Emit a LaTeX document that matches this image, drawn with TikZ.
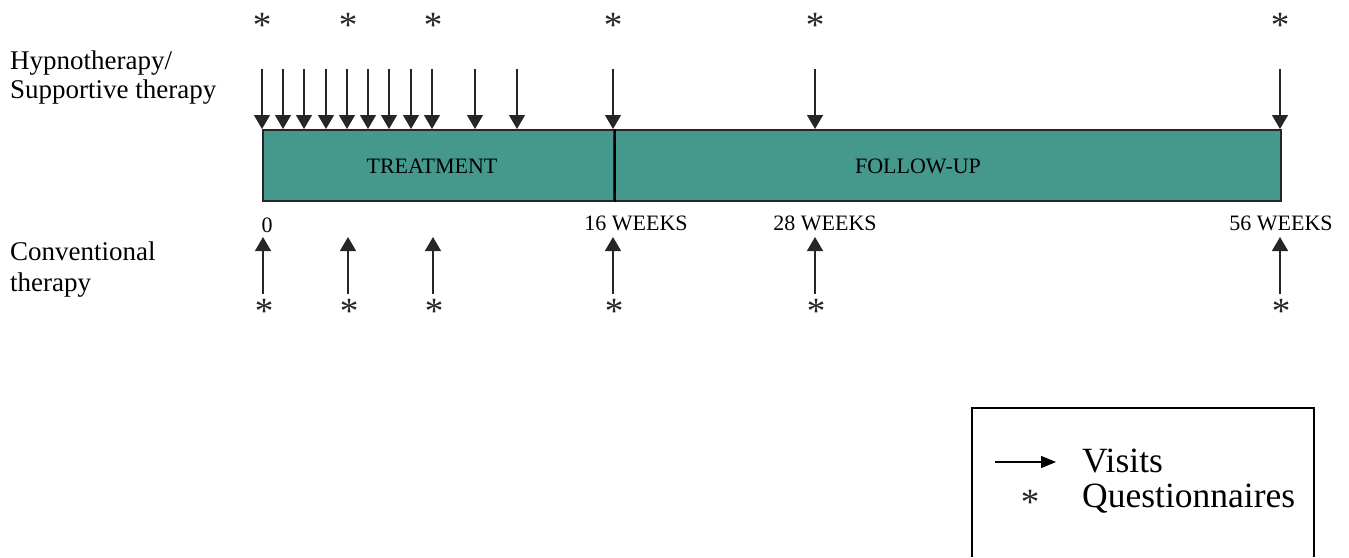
\documentclass[tikz,border=0pt]{standalone}
\usepackage{fontspec}
\setmainfont{Liberation Serif}
\usetikzlibrary{arrows.meta}
\definecolor{teal1}{RGB}{68,152,140}
\begin{document}
\begin{tikzpicture}[x=1pt,y=-1pt,
  visit/.style={line width=1.4pt,draw=black!85,-{Triangle[length=14pt,width=16pt]}},
  phase/.style={draw=black!85,line width=2pt,fill=teal1,inner sep=0pt,anchor=north west},
  lbl/.style={font=\fontsize{22}{24}\selectfont,inner sep=0pt},
  side/.style={font=\fontsize{27}{28}\selectfont,inner sep=0pt,anchor=base west},
  qstar/.style={font=\fontsize{37}{37}\selectfont,inner sep=0pt,text=black!85,yshift=-2.5pt}]
\useasboundingbox (0,0) rectangle (1349,557);
% phases
\node[phase,minimum width=351pt,minimum height=71pt] (treat) at (262,129) {};
\node[phase,minimum width=667pt,minimum height=71pt] (follow) at (613,129) {};
\node[lbl] (tlab) at (432,166) {TREATMENT};
\node[lbl] (flab) at (918,166) {FOLLOW-UP};
% side labels
\node[side] (h1) at (10,69) {Hypnotherapy/};
\node[side] (h2) at (10,98) {Supportive therapy};
\node[side] (c1) at (10,260) {Conventional};
\node[side] (c2) at (10,291) {therapy};
% time labels
\node[lbl] (t0) at (267,225) {0};
\node[lbl] (t16) at (636,223) {16 WEEKS};
\node[lbl] (t28) at (825,223) {28 WEEKS};
\node[lbl] (t56) at (1281,223) {56 WEEKS};
% top visits
\foreach \i/\x in {1/262,2/283,3/304,4/326,5/347,6/368,7/389,8/411,9/432,10/475,11/517,12/613,13/815,14/1280}{
  \coordinate (vs\i) at (\x,69);
  \draw[visit] (vs\i) -- (vs\i |- treat.north);
}
% top questionnaires
\foreach \i/\x in {1/262,2/348,3/433,4/613,5/815,6/1280}{
  \node[qstar] (qt\i) at (\x,23) {*};
}
% bottom visits and questionnaires
\foreach \i/\x in {1/263,2/348,3/433,4/613,5/815,6/1280}{
  \coordinate (cs\i) at (\x,294);
  \coordinate (ce\i) at (\x,237);
  \draw[visit] (cs\i) -- (ce\i);
  \node[qstar] (qb\i) at (\x+1,309) {*};
}
% divider line
\draw[line width=1.4pt] (treat.north east) -- (treat.south east);
% legend
\coordinate (lg1) at (972,557);
\coordinate (lg2) at (972,408);
\coordinate (lg3) at (1314,408);
\coordinate (lg4) at (1314,557);
\draw[line width=1.2pt] (lg1) -- (lg2) -- (lg3) -- (lg4);
\coordinate (la1) at (995,462);
\coordinate (la2) at (1056,462);
\draw[line width=1.4pt,-{Triangle[length=15pt,width=12pt]}] (la1) -- (la2);
\node[font=\fontsize{35.5}{36}\selectfont,inner sep=0pt,anchor=base west] (lv) at (1082,472) {Visits};
\node[qstar] (ls) at (1030,500) {*};
\node[font=\fontsize{35.5}{36}\selectfont,inner sep=0pt,anchor=base west] (lq) at (1082,507) {Questionnaires};
\end{tikzpicture}
\end{document}
